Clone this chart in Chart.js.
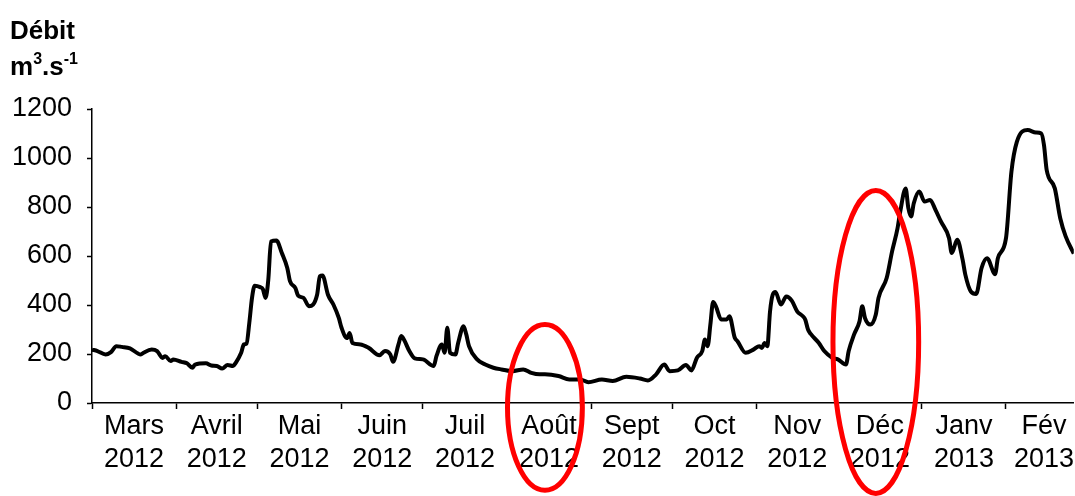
<!DOCTYPE html>
<html>
<head>
<meta charset="utf-8">
<script src="https://cdn.jsdelivr.net/npm/chart.js@4/dist/chart.umd.min.js"></script>
<style>
    body { margin: 0; background: #fff; }
    #wrap { position: relative; width: 1075px; height: 496px; }
    .unit { position: absolute; left: 10px; font-family: "Liberation Sans", Arial, sans-serif; font-weight: bold; font-size: 26px; color: #000; line-height: 1; }
    .unit sup { font-size: 16px; vertical-align: 11px; }
</style>
</head>
<body>
<div id="wrap">
    <canvas id="debit_chart" width="1075" height="496"></canvas>
    <div class="unit" style="top: 17px;">Débit</div>
    <div class="unit" style="top: 51px;">m<sup>3</sup>.s<sup>-1</sup></div>
</div>
<script>
// jours depuis le 1er mars 2012
const days = [0, 2, 5, 7, 9, 11, 14, 18, 19, 22,
    24, 26, 27, 29, 30, 33, 35, 37, 38, 42,
    44, 46, 48, 50, 52, 53, 55, 56, 57, 58,
    59, 60, 62, 63, 64, 65, 66, 68, 70, 72,
    73, 75, 76, 78, 80, 83, 84, 85, 87, 89,
    91, 92, 94, 95, 96, 99, 102, 106, 108, 110,
    111, 113, 114, 115, 117, 119, 122, 126, 127, 129,
    130, 131, 132, 134, 135, 137, 138, 139, 142, 145,
    148, 151, 155, 159, 162, 165, 167, 172, 176, 180,
    183, 188, 192, 197, 202, 205, 208, 211, 213, 216,
    219, 221, 223, 225, 226, 227, 228, 229, 230, 232,
    234, 235, 237, 238, 241, 244, 246, 247, 248, 249,
    250, 251, 252, 254, 256, 258, 260, 262, 263, 264,
    265, 268, 270, 273, 275, 278, 279, 281, 283, 284,
    285, 287, 289, 290, 293, 295, 297, 298, 300, 301,
    302, 303, 305, 307, 309, 311, 313, 316, 317, 319,
    321, 322, 324, 326, 328, 330, 333, 334, 337, 339,
    341, 345, 348, 350, 351, 352, 355, 357, 359, 362];

// débit m3/s
const debit = [218, 212, 198, 208, 232, 229, 223, 198, 205, 218,
    212, 184, 191, 171, 178, 168, 162, 144, 157, 162,
    153, 151, 141, 155, 151, 164, 205, 239, 243, 327,
    429, 479, 473, 465, 429, 503, 659, 663, 612, 551,
    497, 469, 438, 429, 395, 442, 517, 520, 442, 402,
    347, 307, 265, 286, 245, 239, 225, 195, 212, 198,
    168, 239, 273, 259, 212, 182, 178, 151, 191, 239,
    205, 307, 205, 198, 245, 313, 280, 232, 178, 157,
    144, 137, 130, 137, 123, 117, 117, 110, 96, 96,
    85, 96, 90, 107, 100, 92, 117, 157, 130, 133,
    155, 133, 184, 212, 259, 232, 320, 412, 395, 341,
    341, 354, 266, 252, 205, 219, 232, 225, 245, 232,
    374, 442, 453, 402, 435, 418, 374, 355, 340, 300,
    282, 245, 212, 184, 178, 157, 212, 280, 334, 395,
    347, 320, 361, 429, 510, 619, 713, 781, 876, 795,
    761, 815, 863, 822, 829, 788, 741, 673, 612, 666,
    585, 524, 456, 445, 551, 591, 526, 591, 673, 944,
    1066, 1114, 1104, 1100, 1053, 951, 876, 754, 680, 610];

const monthStarts = [0, 31, 61, 92, 122, 153, 184, 214, 245, 275, 306, 337, 365];
const monthLabels = [['Mars', '2012'], ['Avril', '2012'], ['Mai', '2012'], ['Juin', '2012'],
    ['Juil', '2012'], ['Août', '2012'], ['Sept', '2012'], ['Oct', '2012'],
    ['Nov', '2012'], ['Déc', '2012'], ['Janv', '2013'], ['Fév', '2013']];

const yTicks = [0, 200, 400, 600, 800, 1000, 1200];

// ellipses rouges (centre jour, centre débit, demi-axes en jours / débit)
const circles = [
    { day: 167, value: -18, rx: 13.8, ry: 338 },
    { day: 289, value: 249, rx: 15.8, ry: 618 },
];

let font = { family: "'Liberation Sans', Arial, sans-serif", size: 27 };

// ticks aux débuts de mois, libellés au milieu
let xTickValues = [];
monthStarts.forEach((d, i) => {
    xTickValues.push({ value: d, month: -1 });
    if (i < monthLabels.length) xTickValues.push({ value: (d + monthStarts[i + 1]) / 2, month: i });
});

const ellipsePlugin = {
    id: 'ellipses',
    afterDraw(chart) {
        const ctx = chart.ctx;
        const x = chart.scales.x, y = chart.scales.y;
        ctx.save();
        ctx.strokeStyle = '#ff0000';
        ctx.lineWidth = 5;
        circles.forEach(c => {
            const cx = x.getPixelForValue(c.day);
            const cy = y.getPixelForValue(c.value);
            const rx = x.getPixelForValue(c.day + c.rx) - cx;
            const ry = cy - y.getPixelForValue(c.value + c.ry);
            ctx.beginPath();
            ctx.ellipse(cx, cy, rx, ry, 0, 0, Math.PI * 2);
            ctx.stroke();
        });
        ctx.restore();
    }
};

new Chart(document.getElementById('debit_chart'), {
    type: 'line',
    data: {
        datasets: [{
            data: days.map((d, i) => ({ x: d, y: debit[i] })),
            borderColor: '#000',
            borderWidth: 4,
            pointRadius: 0,
            cubicInterpolationMode: 'monotone',
            fill: false,
        }]
    },
    options: {
        responsive: false,
        animation: false,
        layout: { padding: { top: 109, right: 0, left: 0, bottom: 0 } },
        plugins: { legend: { display: false }, tooltip: { enabled: false } },
        scales: {
            x: {
                type: 'linear',
                min: 0,
                max: 362,
                afterBuildTicks: axis => { axis.ticks = xTickValues.filter(t => t.value <= 362).map(t => ({ value: t.value })); },
                afterFit: scale => { scale.height = 93; },
                border: { color: '#000', width: 1.5 },
                grid: {
                    drawOnChartArea: false,
                    tickLength: 6,
                    tickWidth: 1.5,
                    tickColor: ctx => (ctx.tick && monthStarts.includes(ctx.tick.value)) ? '#000' : 'rgba(0,0,0,0)',
                },
                ticks: {
                    autoSkip: false,
                    maxRotation: 0,
                    padding: 1,
                    color: '#000',
                    font: { ...font, lineHeight: 1.22 },
                    callback: value => {
                        const t = xTickValues.find(t => t.value === value);
                        return (t && t.month >= 0) ? monthLabels[t.month] : '';
                    }
                }
            },
            y: {
                min: 0,
                max: 1200,
                afterBuildTicks: axis => { axis.ticks = yTicks.map(v => ({ value: v })); },
                afterFit: scale => { scale.width = 92; },
                border: { color: '#000', width: 1.5 },
                grid: { drawOnChartArea: false, tickLength: 5, tickWidth: 1.5, tickColor: '#000' },
                ticks: { padding: 15, color: '#000', font: font, callback: value => String(value) }
            }
        }
    },
    plugins: [ellipsePlugin]
});
</script>
</body>
</html>
